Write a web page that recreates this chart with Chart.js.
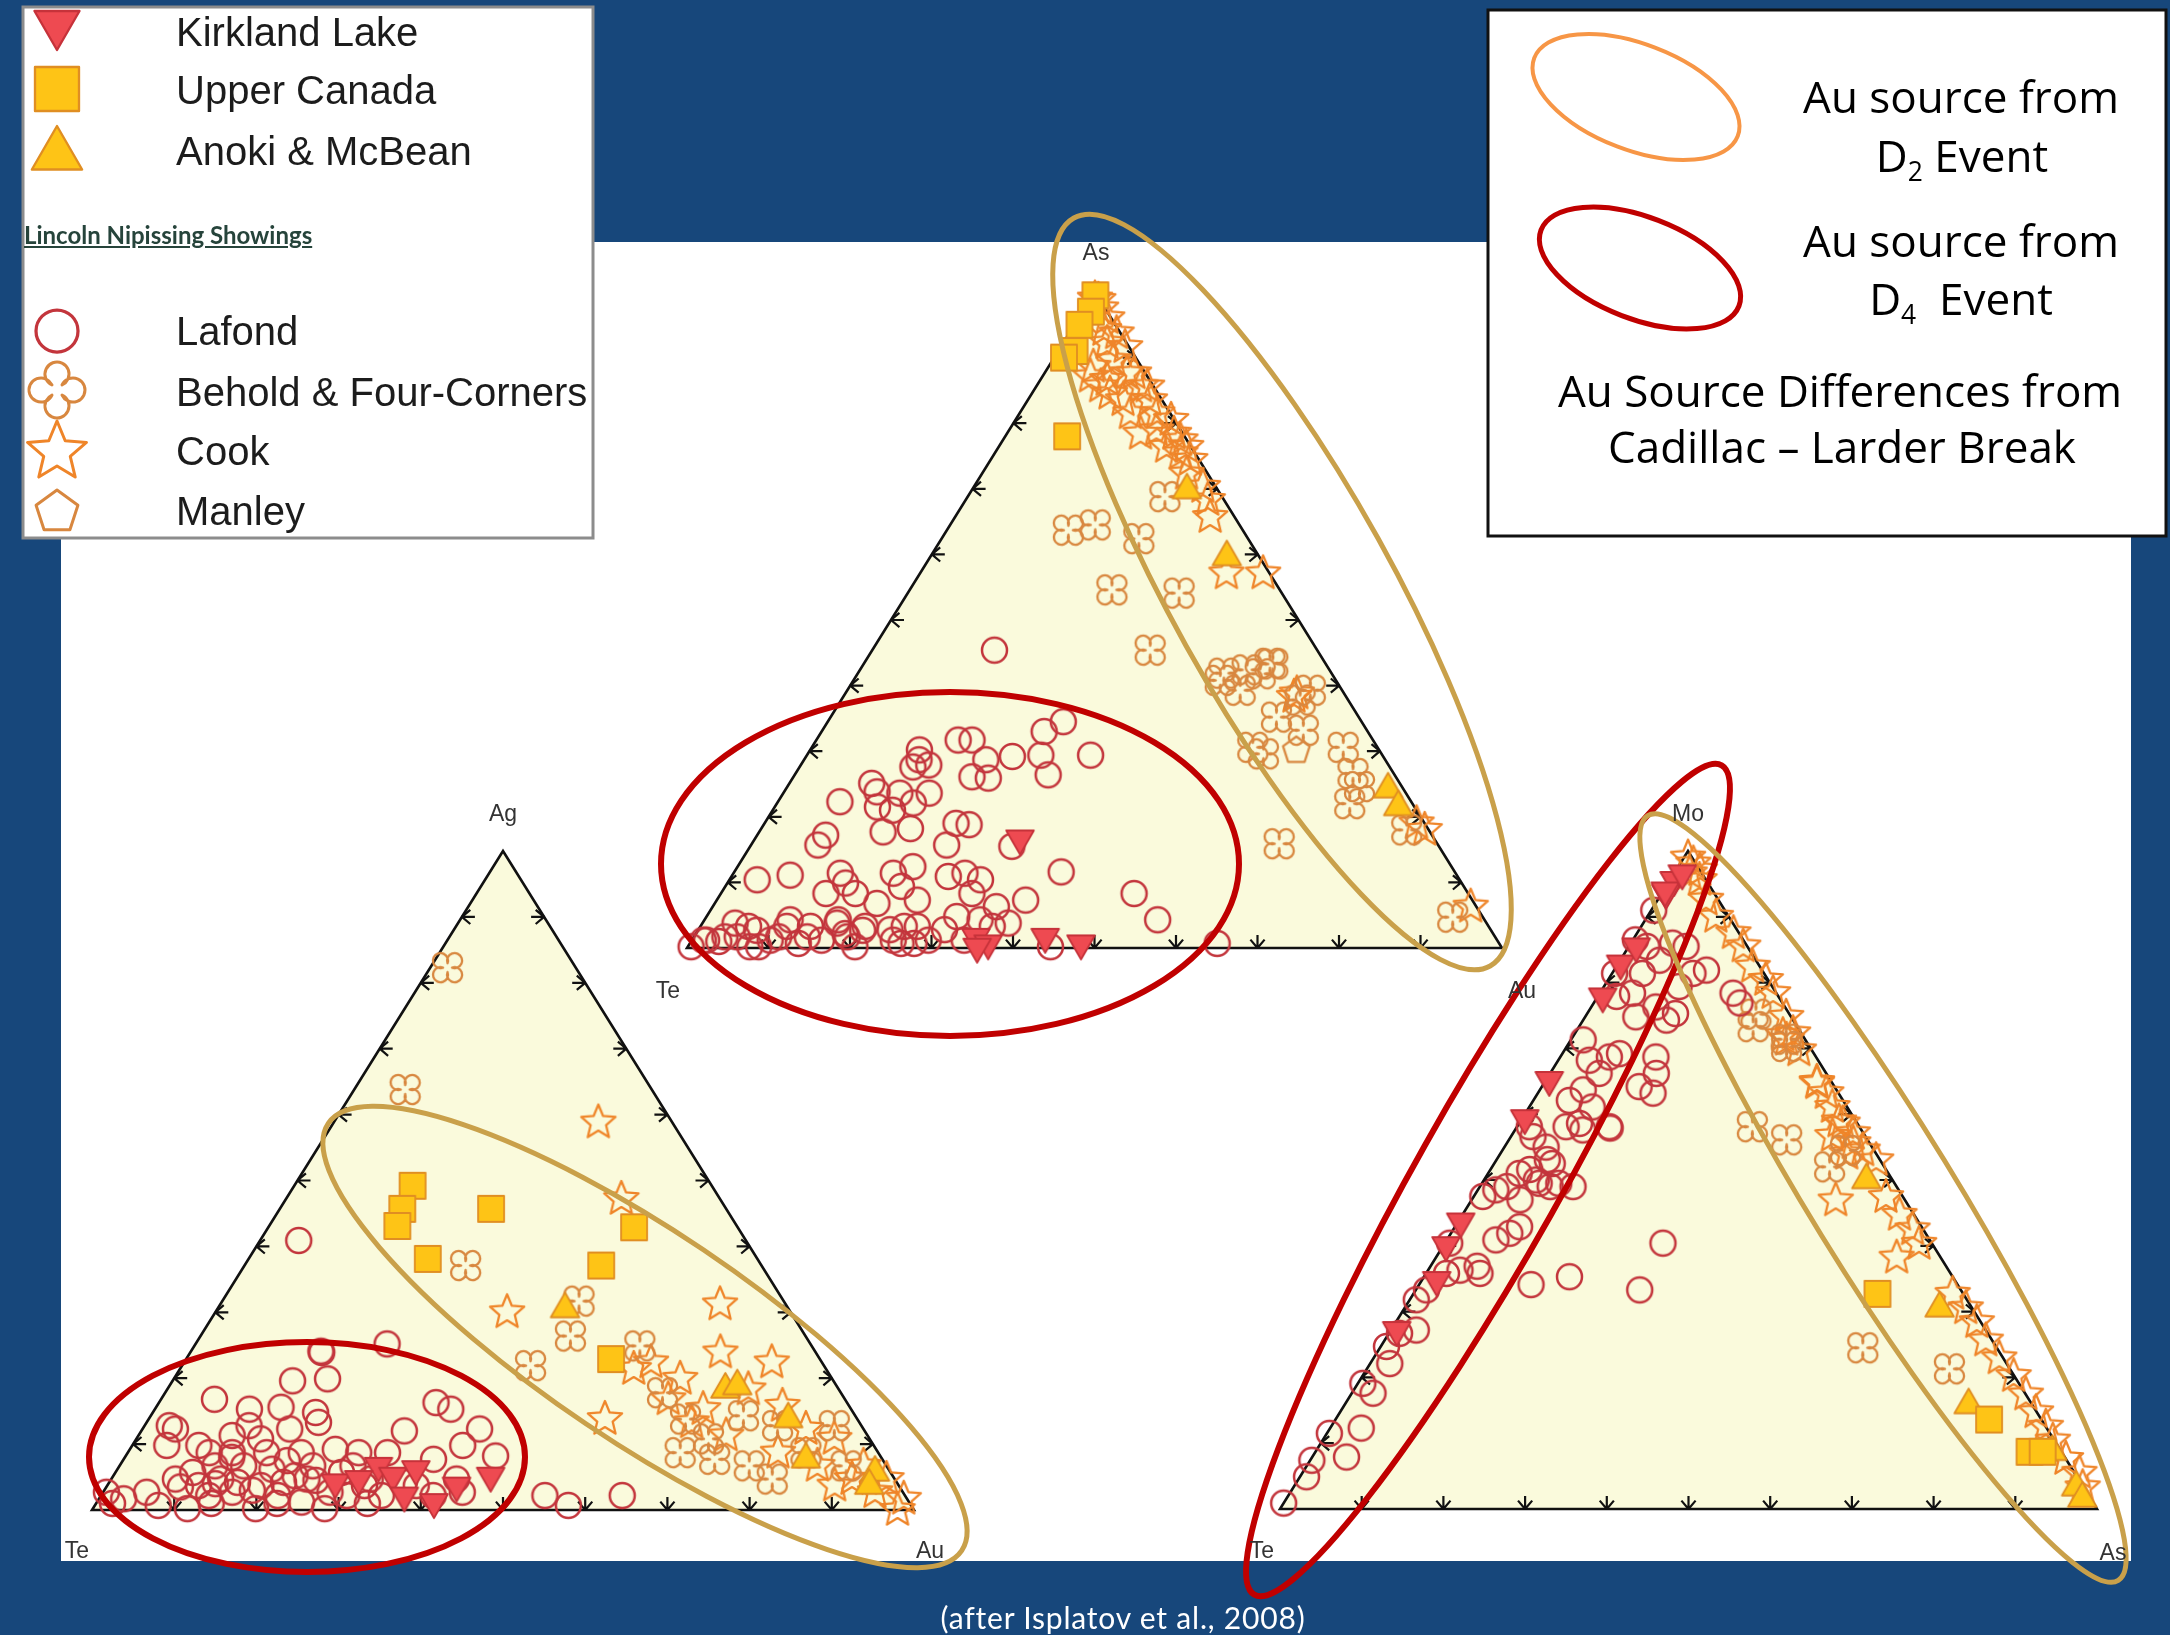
<!DOCTYPE html>
<html lang="en">
<head>
<meta charset="utf-8">
<title>Au source differences – ternary plots</title>
<script src="https://cdn.jsdelivr.net/npm/chart.js@4.4.1/dist/chart.umd.min.js"></script>
<style>
  html, body { margin: 0; padding: 0; background: #17477b; }
  #page { position: relative; width: 2170px; height: 1635px; overflow: hidden; }
  #plot { position: absolute; left: 0; top: 0; }
  .txt { position: absolute; white-space: nowrap; }
  .legend-item { font-family: "Liberation Sans", Arial, sans-serif; font-size: 40px; line-height: 40px; color: #1c1c1c; }
  .legend-head { font-family: Lato, sans-serif; font-weight: 700; font-size: 24px; line-height: 24px; color: #26443b; text-decoration: underline; }
  .note { font-family: "Open Sans", sans-serif; font-size: 44px; line-height: 44px; color: #000; transform: translateX(-50%); }
  .note sub { font-size: 0.6em; line-height: 0; vertical-align: -0.35em; }
  .vertex { font-family: "Liberation Sans", Arial, sans-serif; font-size: 23px; line-height: 23px; color: #333; transform: translate(-50%, -50%); }
  .credit { font-family: Lato, sans-serif; font-size: 30px; line-height: 30px; letter-spacing: 0.8px; color: #fff; transform: translateX(-50%); }
</style>
</head>
<body>
<div id="page">
  <canvas id="plot" width="2170" height="1635"></canvas>
</div>
<script>
// ---- data ----
// ternary compositions, in percent.
// each point is [apex element, right-hand element]; the left-hand element (Te) is the rest.

// diagram 1: As (apex) - Te - Au
const asTeAuLafond = [
  [34.5,28.9],[33,27.3],[29.4,34.8],[29.4,28.7],[29.2,25.3],[26.4,31.1],[31.7,17.4],[31.7,19.1],[28.7,22.3],[26.1,21.9],[25.9,24],[30.2,13.4],[28.7,14.1],[27.6,13.9],[27.9,15.7],[45.4,15],
  [22.3,7.6],[25.1,10.1],[23.8,11.4],[23.6,14.3],[23.6,17.9],[21.5,12.6],[21,14.7],[22.1,16.7],[17.7,15.2],[18.2,18.3],[19,23.5],[18.8,25.2],[15.7,24],[17.2,8.4],[15.7,8.2],[15.5,32.1],[11.6,40.1],[8.3,50.7],[4.3,55.6],[0.7,64.7],
  [10.4,3.4],[11.1,7.1],[11.4,13.1],[9.9,14.5],[8.3,12.9],[8.3,16.5],[11.4,19.6],[12.4,21.5],[9.4,21.6],[7.3,24.6],[6.8,19.9],[10.9,26.6],[11.4,28.4],[10.4,30.8],[8.3,30.8],[6.3,34.8],[7.3,37.9],[3.8,37.5],
  [0.2,0.4],[1.2,1.8],[1.7,3.8],[3.8,4],[3.3,5.9],[0.2,8.7],[1.7,10.4],[4.3,10.5],[0.7,13.3],[3.3,13.5],[1.2,15.9],[4.3,16.4],[2.2,18.3],[0.2,20.5],[3.3,20.2],[2.8,23.5],[0.7,25.9],[3.3,26.6],[1.2,29],[2.8,30.2],[4.8,30.7],[1.2,33.4],[4.3,33.8],[3.3,35.8],[0.2,44.5],
  [1.2,1.4],[1,3.4],[1.7,5.3],[0.2,7.6],[2.7,7.2],[1.2,9.6],[3.3,10.6],[1.7,13.9],[3.8,16.5],[1.7,18.8],[2.7,20.2],[1.2,24.7],[3.3,25],[0.7,27.5]
];
const asTeAuKirkland = [[16.7,32.5],[1.7,34.6],[0.7,36.6],[0.2,35.5],[1.7,43.1],[0.7,48]];
const asTeAuUpperCanada = [[99.5,0.3],[97,1],[95,0.6],[91,2],[90,1.2],[78,7.6]];
const asTeAuAnoki = [[69.8,26.4],[59.6,36.4],[24.2,73.9],[21.5,76.5]];
const asTeAuBehold = [
  [63.7,14.9],[64.5,17.8],[62.4,24.2],[68.8,24.2],[54.6,24.8],[54.1,33.3],[45.4,34.1],[41.9,44.9],[42.4,47.5],[43.4,49.8],[40.8,45],[39.3,48.2],[41.8,49.4],[43.3,50.2],
  [37.8,56.3],[39.3,56.8],[35.2,54.7],[33.2,59],[30.6,54.1],[29.6,55.9],[30.6,65.2],[26.6,68.4],[24.6,70.2],[22,70.3],[15.9,64.7],[18,79.3],[4.7,91.6]
];
const asTeAuCook = [
  [99,0.5],[98.8,1],[96,3.5],[93.7,5.8],[91.6,7.9],[92.2,5.4],[88.6,5.5],[89.6,7.5],[87.6,11],[85.6,13.6],[85.6,7.9],[83.5,11.7],[84.5,9.6],[81.5,13.6],[78.4,16.4],[78.9,18.1],
  [78.4,20.5],[75.4,22.8],[76.4,20.6],[74.4,24.5],[72.3,25.1],[70.3,28.1],[65.7,31.3],[68.3,29.7],[57.1,37.6],[57.1,42.1],[85.6,12.8],[87.6,10.1],[97.5,2],[94.2,4],[87.1,5.9],
  [86.6,8.2],[81.5,16.9],[83.5,15],[76.4,23],[80.5,19.1],[77.4,21.8],[38.3,55.3],[18,81.5],[6.3,93],[19,80],[38.8,55.4]
];
const asTeAuManley = [[30.1,59.7]];

// diagram 2: Ag (apex) - Te - Au
const agTeAuLafond = [
  [40.9,4.7],[24.1,15.8],[12.3,4],[25.2,23.3],[23.9,16],[19.9,18.7],[19.6,14.6],[16.8,6.5],[15.3,11.5],[15.6,15.2],[14.8,19.8],[13.3,20.9],[12.8,3],[9.8,4.2],[16.3,33.7],[15.3,36],
  [12,32],[12.3,41],[9.8,40.2],[8.2,45],[7.7,37.7],[8.7,31.6],[8.7,28.1],[9.2,25],[10.8,15.1],[11.3,11.4],[6.7,11.6],[5.7,9.4],[4.7,7.8],[6.7,15.1],[6.2,18.8],[5.2,22.1],
  [6.7,23.5],[5.7,27.5],[4.7,31.5],[3.7,37.6],[4.7,42],[2.7,43.7],[2.7,0.4],[1.7,3],[2.7,5.3],[0.7,7.7],[0.2,11.5],[2.2,13.1],[2.7,15.7],[0.2,19.8],[2.2,21.5],[1.2,24.9],
  [0.2,28.2],[2.2,29.9],[3.7,31.3],[2.2,34.1],[4.2,35.9],[2.2,40.4],[2.2,54],[0.7,57.6],[2.2,63.4],
  [1,2],[3.5,9],[1,14],[4,13],[3,18],[1,22],[4.5,25],[1,33],[7.5,20],[8,13],
  [3.7,11.1],[4.7,13.3],[4.2,15.6],[3.7,18.7],[4.2,21.2],[4.7,23.8],[2.7,27.6],[6.7,28.4],[8.7,12.7],[8.7,16.9],[8.7,21.1],[8.7,9.9],[12.8,12.7],[9.8,8.1],[12.3,17.9]
];
const agTeAuKirkland = [[6.7,31.5],[5.2,34],[2.2,36.9],[6.2,36.3],[1.2,41],[3.7,42.5],[5.2,45.9],[4.2,27.5],[4.7,30.1]];
const agTeAuUpperCanada = [[49.2,14.4],[45.7,14.9],[43.1,15.6],[45.7,25.7],[42.9,44.5],[38.1,21.8],[37.1,43.4],[22.9,51.7]];
const agTeAuAnoki = [[30.5,42.3],[18.3,67.9],[18.8,69.1],[13.8,77.8],[7.7,83],[5.7,92.4],[3.7,92.7]];
const agTeAuBehold = [
  [82.3,2.1],[63.8,6.2],[37.1,26.9],[31.7,43.4],[26.4,45],[24.9,54.2],[21.9,42.4],[17.8,60.5],[13.8,65.3],[10.8,69.6],[14.3,72.1],[12.8,77],[8.7,82.5],[12.8,83.9],
  [4.7,80.4],[6.7,76.6],[8.7,67.2],[6.7,88.4],[7.7,71.9]
];
const agTeAuCook = [
  [58.8,32.2],[47.2,40.8],[30,35.5],[31.2,60.8],[13.8,55.5],[23.9,64.5],[22.4,71.5],[22.4,56.8],[19.9,61.6],[18.3,70.7],[15.8,76.1],[12.3,80.7],[10.8,84.9],[6.7,90.5],
  [4.7,94.3],[0,98],[3.7,88.5],[8.7,79.1],[11.3,71.5],[13.3,66.3],[21.4,55.2],[16.8,61.7],[15.3,66.7],[6.7,84.9],[4.7,90.1],[2.7,93.9],[1.7,97.9]
];

// diagram 3: Mo (apex) - Te - As
const moTeAsLafond = [
  [0.9,0],[4.9,0.8],[7.4,0.2],[11.5,0.3],[7.9,4.2],[12.3,3.8],[19.1,0.6],[17.6,2.6],[22.1,2.4],[24.7,0.7],[26.7,1.3],[27.2,3.1],[31.8,0.8],[33.3,1.3],[35.8,2.5],[36.3,3.9],
  [36.9,5.7],[35.8,6.6],[40.9,6],[41.9,7.2],[42.9,7.9],[40.4,0.6],[47.5,1.1],[48.5,2.2],[49,3.3],[47,5.9],[50,6.4],[49,8.6],[51.6,4.8],[53.1,6.2],[56.6,2.7],[58.1,1.5],
  [58.1,6],[57.6,8.3],[57.9,11.5],[49,11.4],[34.1,13.7],[35.3,17.8],[33.3,27.4],[40.4,26.7],
  [91,0.3],[86.5,0.3],[85.5,2.2],[81.4,3.7],[83.4,4.8],[86,5.1],[85.5,7],[81.4,9.9],[81.9,11.3],[79.4,9.2],[81.4,0.3],[77.9,2.3],[78.4,4],[74.8,6.2],[76.3,7.9],[74.3,10.2],
  [75.3,10.8],[71.3,1.5],[68.2,3.8],[66.2,6],[68.7,6],[69.2,7],[64.2,11.9],[68.7,11.7],[66.2,13],[63.2,14.1],[62.1,4.4],[63.7,5.3],[61.1,7.7],[58.6,7.4],[58.1,11.3],[55,5.1],
  [52.5,7.1],[49.5,7],[51,3.8],[49.5,9.4],[78.4,16.3],[76.9,17.9]
];
const moTeAsKirkland = [[59.4,0.3],[43.7,0.3],[40.1,0.3],[34.8,1.8],[27.2,0.7],[77.9,0.6],[65.2,0.4],[82.9,0.3],[85.5,0.9],[95.6,0.5],[93.6,0.5],[94,0.2],[96.6,1]];
const moTeAsUpperCanada = [[32.7,56.8],[13.6,80],[8.7,87.4],[8.7,89]];
const moTeAsAnoki = [[50,46.8],[30.5,65.5],[15.8,76.4],[8.7,90.2],[3.3,95.8],[1.6,97.4]];
const moTeAsBehold = [[73.3,21.3],[70.3,26.9],[58.1,28.8],[56.1,34],[52,41.3],[54.5,42],[24.5,59.1],[21.3,71.3],[75.2,20.7],[71.4,26.3]];
const moTeAsCook = [
  [99,0.5],[98.1,1.6],[97.1,2.9],[96.6,1.9],[95.6,3.6],[92.6,5.9],[90,8.4],[87.5,11.8],[85.5,14],[82.4,16.7],[80.4,19.3],[78.4,21.2],[74.8,24.6],[72.3,26.7],[69.7,28.7],
  [71.3,26.4],[64.7,33.4],[63.2,35.3],[61.1,37.1],[58.6,39.6],[57.1,41.6],[54.5,44.1],[53,46.5],[72,25.6],[64.9,33.3],[58.9,39],[56.7,39.3],[55.6,42.4],[54,42.4],
  [46.9,44.6],[47.4,50.5],[44.7,53.5],[42.5,56.2],[40.3,58.1],[38.2,56.4],[32.7,66],[30.5,68.7],[28.4,71.1],[25.6,73.6],[22.9,76.6],[20.2,79.7],[17.4,82.6],[14.7,85.2],
  [12.5,87.5],[10.4,89.4],[7.6,92.4],[5.5,95.1],[3.3,96.6]
];

// ---- text ----
const seriesNames = ['Kirkland Lake', 'Upper Canada', 'Anoki & McBean', 'Lafond', 'Behold & Four-Corners', 'Cook', 'Manley'];
const legendHeading = 'Lincoln Nipissing Showings';
const vertexLabels = [['As', 'Te', 'Au'], ['Ag', 'Te', 'Au'], ['Mo', 'Te', 'As']];
const creditLine = '(after Isplatov et al., 2008)';

// ---- layout ----
const PAGE_W = 2170, PAGE_H = 1635;
const SLIDE = { left: 61, top: 242, right: 2131, bottom: 1561 };
const GOLD = '#c9a04a', RED = '#c00000';

const diagrams = [
  { apex: [1095, 292], left: [687, 948], right: [1502, 948], labelAt: [[1096, 252], [668, 990], [1522, 990]],
    series: [asTeAuKirkland, asTeAuUpperCanada, asTeAuAnoki, asTeAuLafond, asTeAuBehold, asTeAuCook, asTeAuManley] },
  { apex: [503, 851], left: [92, 1510], right: [914, 1510], labelAt: [[503, 813], [77, 1550], [930, 1550]],
    series: [agTeAuKirkland, agTeAuUpperCanada, agTeAuAnoki, agTeAuLafond, agTeAuBehold, agTeAuCook, []] },
  { apex: [1688, 851], left: [1280, 1509], right: [2097, 1509], labelAt: [[1688, 813], [1262, 1550], [2113, 1552]],
    series: [moTeAsKirkland, moTeAsUpperCanada, moTeAsAnoki, moTeAsLafond, moTeAsBehold, moTeAsCook, []] }
];

// outlines drawn over the diagrams (centre, semi-axes, tilt in degrees)
const rings = [
  { cx: 1282, cy: 592, rx: 428, ry: 110, tilt: 60.9, color: GOLD, width: 5 },
  { cx: 950, cy: 864, rx: 289, ry: 172, tilt: 0, color: RED, width: 6 },
  { cx: 645, cy: 1337, rx: 382, ry: 105, tilt: 34, color: GOLD, width: 5 },
  { cx: 307, cy: 1457, rx: 218, ry: 115, tilt: 0, color: RED, width: 6 },
  { cx: 1488, cy: 1180, rx: 476, ry: 72, tilt: -60.6, color: RED, width: 6 },
  { cx: 1883, cy: 1198, rx: 449, ry: 72, tilt: 58.4, color: GOLD, width: 5 }
];

// marker look per series: plot size r, legend size lr
const markerSpec = [
  { kind: 'triDown', r: 16, lr: 26, fill: '#ee4a51', stroke: '#c6323a', lw: 1.8 },
  { kind: 'square', r: 13, lr: 22, fill: '#fec416', stroke: '#e08e22', lw: 1.8 },
  { kind: 'triUp', r: 16.5, lr: 29, fill: '#fec416', stroke: '#e08e22', lw: 1.8 },
  { kind: 'circle', r: 12.5, lr: 21, fill: null, stroke: '#c3353c', lw: 2.5 },
  { kind: 'clover', r: 17.5, lr: 28, fill: null, stroke: '#d8873f', lw: 2.3, turn: Math.PI / 4 },
  { kind: 'star', r: 18, lr: 31, fill: null, stroke: '#ef8529', lw: 2.3 },
  { kind: 'pentagon', r: 14, lr: 22, fill: null, stroke: '#d8873f', lw: 2.3 }
];
const legendRows = [24, 89, 155, 331, 390, 452, 512];
const legendTextRows = [31, 89, 150, 330, 391, 450, 510];

function markerCanvas(spec, r, lw, turn) {
  const pad = Math.ceil(lw) + 2;
  const size = Math.ceil(2 * r + 2 * pad);
  const c = document.createElement('canvas');
  c.width = size; c.height = size;
  const g = c.getContext('2d');
  g.translate(size / 2, size / 2);
  g.beginPath();
  const k = spec.kind;
  if (k === 'circle') {
    g.arc(0, 0, r, 0, Math.PI * 2);
  } else if (k === 'square') {
    g.rect(-r, -r, 2 * r, 2 * r);
  } else if (k === 'triUp' || k === 'triDown') {
    const s = k === 'triUp' ? -1 : 1;
    g.moveTo(0, s * r);
    g.lineTo(r * Math.cos(Math.PI / 6), -s * r / 2);
    g.lineTo(-r * Math.cos(Math.PI / 6), -s * r / 2);
    g.closePath();
  } else if (k === 'star' || k === 'pentagon') {
    const n = k === 'star' ? 10 : 5;
    for (let i = 0; i < n; i++) {
      const rr = (k === 'star' && i % 2) ? r * 0.45 : r;
      const a = -Math.PI / 2 + i * 2 * Math.PI / n;
      g.lineTo(rr * Math.cos(a), rr * Math.sin(a));
    }
    g.closePath();
  } else if (k === 'clover') {
    const d = 0.57 * r, rl = 0.43 * r;
    const t = (Math.SQRT2 * d - Math.sqrt(4 * rl * rl - 2 * d * d)) / 2;
    for (let i = 0; i < 4; i++) {
      const th = turn + i * Math.PI / 2;
      const cx = d * Math.cos(th), cy = d * Math.sin(th);
      const p0 = [t * Math.cos(th - Math.PI / 4), t * Math.sin(th - Math.PI / 4)];
      const p1 = [t * Math.cos(th + Math.PI / 4), t * Math.sin(th + Math.PI / 4)];
      g.arc(cx, cy, rl, Math.atan2(p0[1] - cy, p0[0] - cx), Math.atan2(p1[1] - cy, p1[0] - cx), false);
    }
    g.closePath();
  }
  if (spec.fill) { g.fillStyle = spec.fill; g.fill(); }
  g.strokeStyle = spec.stroke; g.lineWidth = lw; g.lineJoin = 'round'; g.stroke();
  return c;
}

const plotMarks = markerSpec.map(s => markerCanvas(s, s.r, s.lw, s.turn || 0));
const legendMarks = markerSpec.map(s => markerCanvas(s, s.lr, s.lw * 1.3, 0));

function toPage(d, p) {
  const a = p[0] / 100, c = p[1] / 100, b = 1 - a - c;
  return {
    x: a * d.apex[0] + b * d.left[0] + c * d.right[0],
    y: a * d.apex[1] + b * d.left[1] + c * d.right[1]
  };
}

const datasets = [];
diagrams.forEach(d => {
  d.series.forEach((pts, i) => {
    if (!pts.length) return;
    datasets.push({
      label: seriesNames[i],
      data: pts.map(p => toPage(d, p)),
      pointStyle: plotMarks[i],
      pointRadius: markerSpec[i].r,
      order: i
    });
  });
});

function arrowTick(ctx, p, dir) {
  const stem = 13, arm = 11, c = Math.cos(0.7), s = Math.sin(0.7);
  const bx = -dir[0], by = -dir[1];
  ctx.moveTo(p[0], p[1]); ctx.lineTo(p[0] + bx * stem, p[1] + by * stem);
  ctx.moveTo(p[0], p[1]); ctx.lineTo(p[0] + arm * (bx * c - by * s), p[1] + arm * (bx * s + by * c));
  ctx.moveTo(p[0], p[1]); ctx.lineTo(p[0] + arm * (bx * c + by * s), p[1] + arm * (-bx * s + by * c));
}

const slidePlugin = {
  id: 'slide',
  beforeDraw(chart) {
    const { ctx, scales: { x, y } } = chart;
    const P = q => [x.getPixelForValue(q[0]), y.getPixelForValue(q[1])];
    ctx.save();
    ctx.fillStyle = '#17477b';
    ctx.fillRect(0, 0, chart.width, chart.height);
    const a = P([SLIDE.left, SLIDE.top]), b = P([SLIDE.right, SLIDE.bottom]);
    ctx.fillStyle = '#ffffff';
    ctx.fillRect(a[0], a[1], b[0] - a[0], b[1] - a[1]);
    diagrams.forEach(d => {
      const A = P(d.apex), L = P(d.left), R = P(d.right);
      ctx.beginPath();
      ctx.moveTo(L[0], L[1]); ctx.lineTo(A[0], A[1]); ctx.lineTo(R[0], R[1]); ctx.closePath();
      ctx.fillStyle = '#fafadc'; ctx.fill();
      ctx.strokeStyle = '#111'; ctx.lineWidth = 2.6; ctx.stroke();
      const lerp = (u, v, f) => [u[0] + (v[0] - u[0]) * f, u[1] + (v[1] - u[1]) * f];
      ctx.beginPath();
      for (let i = 1; i < 10; i++) {
        const f = i / 10;
        arrowTick(ctx, lerp(L, A, f), [-1, 0]);
        arrowTick(ctx, lerp(R, A, f), [1, 0]);
        arrowTick(ctx, lerp(L, R, f), [0, 1]);
      }
      ctx.lineWidth = 2.2; ctx.stroke();
    });
    ctx.restore();
  },
  afterDatasetsDraw(chart) {
    const { ctx, scales: { x, y } } = chart;
    ctx.save();
    rings.forEach(r => {
      const cx = x.getPixelForValue(r.cx), cy = y.getPixelForValue(r.cy);
      const rx = Math.abs(x.getPixelForValue(r.cx + r.rx) - cx);
      const ry = Math.abs(y.getPixelForValue(r.cy + r.ry) - cy);
      ctx.beginPath();
      ctx.ellipse(cx, cy, rx, ry, r.tilt * Math.PI / 180, 0, Math.PI * 2);
      ctx.strokeStyle = r.color; ctx.lineWidth = r.width; ctx.stroke();
    });
    ctx.restore();
  },
  afterDraw(chart) {
    const ctx = chart.ctx;
    ctx.save();
    // symbol key
    ctx.fillStyle = '#fff'; ctx.fillRect(23, 7, 570, 531);
    ctx.strokeStyle = '#8c8c8c'; ctx.lineWidth = 3; ctx.strokeRect(23, 7, 570, 531);
    ctx.beginPath(); ctx.rect(25, 9, 566, 527); ctx.clip();
    legendMarks.forEach((m, i) => ctx.drawImage(m, 57 - m.width / 2, legendRows[i] - m.height / 2));
    ctx.restore();
    ctx.save();
    // outline key
    ctx.fillStyle = '#fff'; ctx.fillRect(1488, 10, 678, 526);
    ctx.strokeStyle = '#111'; ctx.lineWidth = 3; ctx.strokeRect(1488, 10, 678, 526);
    ctx.beginPath(); ctx.ellipse(1636, 97, 109, 53, 21 * Math.PI / 180, 0, Math.PI * 2);
    ctx.strokeStyle = '#f79646'; ctx.lineWidth = 4; ctx.stroke();
    ctx.beginPath(); ctx.ellipse(1640, 268, 106, 51, 21 * Math.PI / 180, 0, Math.PI * 2);
    ctx.strokeStyle = RED; ctx.lineWidth = 5; ctx.stroke();
    ctx.restore();
  }
};

new Chart(document.getElementById('plot'), {
  type: 'scatter',
  data: { datasets },
  options: {
    responsive: false,
    animation: false,
    devicePixelRatio: 1,
    events: [],
    layout: { padding: 0, autoPadding: false },
    plugins: { legend: { display: false }, tooltip: { enabled: false } },
    scales: {
      x: { type: 'linear', min: 0, max: PAGE_W, display: false },
      y: { type: 'linear', min: 0, max: PAGE_H, reverse: true, display: false }
    }
  },
  plugins: [slidePlugin]
});

// ---- text layer ----
const page = document.getElementById('page');
function addText(cls, html, left, top) {
  const el = document.createElement('div');
  el.className = 'txt ' + cls;
  el.innerHTML = html;
  el.style.left = left + 'px';
  el.style.top = top + 'px';
  page.appendChild(el);
}
const esc = s => s.replace(/&/g, '&amp;');
seriesNames.forEach((name, i) => addText('legend-item', esc(name), 176, legendTextRows[i] - 19.5));
addText('legend-head', legendHeading, 24, 223);
addText('note', 'Au source from', 1961, 74);
addText('note', 'D<sub>2</sub> Event', 1962, 133);
addText('note', 'Au source from', 1961, 218);
addText('note', 'D<sub>4</sub>&nbsp; Event', 1961, 276);
addText('note', 'Au Source Differences from', 1840, 368);
addText('note', 'Cadillac \u2013 Larder Break', 1842, 424);
diagrams.forEach((d, k) => d.labelAt.forEach((p, j) => addText('vertex', vertexLabels[k][j], p[0], p[1])));
addText('credit', creditLine, 1123, 1602);
</script>
</body>
</html>
